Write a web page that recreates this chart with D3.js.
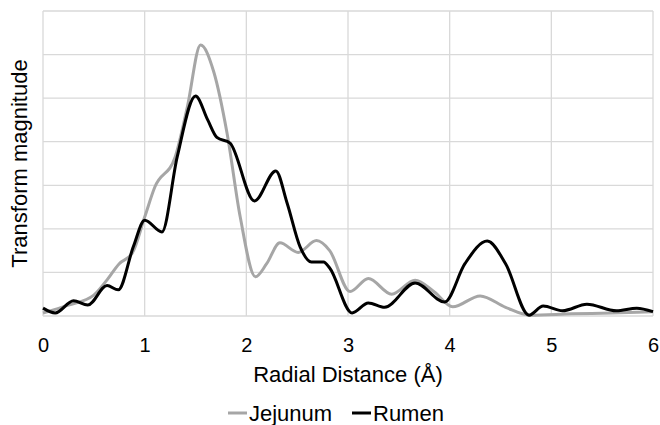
<!DOCTYPE html>
<html>
<head>
<meta charset="utf-8">
<script src="https://cdn.jsdelivr.net/npm/d3@7"></script>
<style>
  body { margin: 0; background: #fff; }
  text { font-family: "Liberation Sans", Arial, sans-serif; fill: #000; }
</style>
</head>
<body>
<div id="chart"></div>
<script>
// data (y in gridline units)
const xTicks = [0, 1, 2, 3, 4, 5, 6];
const yGrid = [0, 1, 2, 3, 4, 5, 6, 7];

const jejunum = [
  [0, 0.07], [0.25, 0.25], [0.5, 0.48], [0.62, 0.8], [0.75, 1.2], [0.88, 1.45],
  [1.0, 2.27], [1.1, 2.96], [1.3, 3.65], [1.42, 4.8], [1.55, 6.22], [1.68, 5.6],
  [1.81, 4.2], [1.94, 2.27], [2.09, 0.9], [2.2, 1.2], [2.33, 1.68], [2.51, 1.46],
  [2.69, 1.73], [2.82, 1.5], [3.02, 0.56], [3.2, 0.86], [3.43, 0.5], [3.66, 0.82],
  [3.85, 0.55], [4.03, 0.21], [4.3, 0.46], [4.55, 0.2], [4.79, 0.02], [5.2, 0.05],
  [5.6, 0.07], [6.0, 0.1]
];

const rumen = [
  [0, 0.18], [0.12, 0.07], [0.3, 0.35], [0.44, 0.25], [0.63, 0.7], [0.74, 0.6],
  [0.89, 1.6], [1.0, 2.2], [1.17, 1.93], [1.32, 3.65], [1.5, 5.05], [1.62, 4.5],
  [1.71, 4.1], [1.84, 3.97], [2.08, 2.64], [2.29, 3.33], [2.4, 2.6], [2.53, 1.58],
  [2.64, 1.24], [2.76, 1.24], [2.82, 1.1], [3.04, 0.07], [3.2, 0.3], [3.36, 0.2],
  [3.66, 0.76], [3.95, 0.32], [4.15, 1.2], [4.37, 1.72], [4.55, 1.2], [4.78, 0.02],
  [4.92, 0.23], [5.11, 0.12], [5.35, 0.27], [5.64, 0.12], [5.84, 0.18], [6.0, 0.1]
];

const series = [
  { name: "Jejunum", values: jejunum, color: "#a6a6a6" },
  { name: "Rumen", values: rumen, color: "#000000" }
];

const width = 660;
const height = 425;
const margin = { top: 11, right: 7, bottom: 109, left: 43 };

const svg = d3.select("#chart")
    .append("svg")
    .attr("width", width)
    .attr("height", height);

const x = d3.scaleLinear().domain([0, 6]).range([margin.left, width - margin.right]);
const y = d3.scaleLinear().domain([0, 7]).range([height - margin.bottom, margin.top]);

// grid
svg.append("g").selectAll("line").data(yGrid).join("line")
    .attr("x1", x(0)).attr("x2", x(6))
    .attr("y1", d => y(d)).attr("y2", d => y(d))
    .attr("stroke", "#d9d9d9").attr("stroke-width", 1.3);

svg.append("g").selectAll("line").data(xTicks).join("line")
    .attr("x1", d => x(d)).attr("x2", d => x(d))
    .attr("y1", y(0)).attr("y2", y(7))
    .attr("stroke", "#d9d9d9").attr("stroke-width", 1.3);

// x axis labels
const xAxis = svg.append("g")
    .attr("transform", `translate(0, ${y(0)})`)
    .call(d3.axisBottom(x).tickValues(xTicks).tickSize(0).tickPadding(22).tickFormat(d3.format("d")));
xAxis.select(".domain").remove();
xAxis.selectAll("text").style("font-size", "20px").style("font-family", "Liberation Sans, Arial, sans-serif");

// lines
const line = d3.line()
    .x(d => x(d[0]))
    .y(d => y(d[1]))
    .curve(d3.curveMonotoneX);

svg.append("g").selectAll("path").data(series).join("path")
    .attr("fill", "none")
    .attr("stroke", d => d.color)
    .attr("stroke-width", 3)
    .attr("stroke-linejoin", "round")
    .attr("d", d => line(d.values));

// axis titles
svg.append("text")
    .attr("x", (x(0) + x(6)) / 2).attr("y", 382)
    .attr("text-anchor", "middle")
    .style("font-size", "22px")
    .text("Radial Distance (Å)");

svg.append("text")
    .attr("transform", `translate(27, ${(y(0) + y(7)) / 2}) rotate(-90)`)
    .attr("text-anchor", "middle")
    .style("font-size", "22px")
    .text("Transform magnitude");

// legend
const legendPos = [228, 352];
const legend = svg.append("g").selectAll("g").data(series).join("g")
    .attr("transform", (d, i) => `translate(${legendPos[i]}, 413)`);
legend.append("line")
    .attr("x1", 0).attr("x2", 19).attr("y1", 0).attr("y2", 0)
    .attr("stroke", d => d.color).attr("stroke-width", 3);
legend.append("text")
    .attr("x", 21).attr("y", 8)
    .style("font-size", "22px")
    .text(d => d.name);
</script>
</body>
</html>
